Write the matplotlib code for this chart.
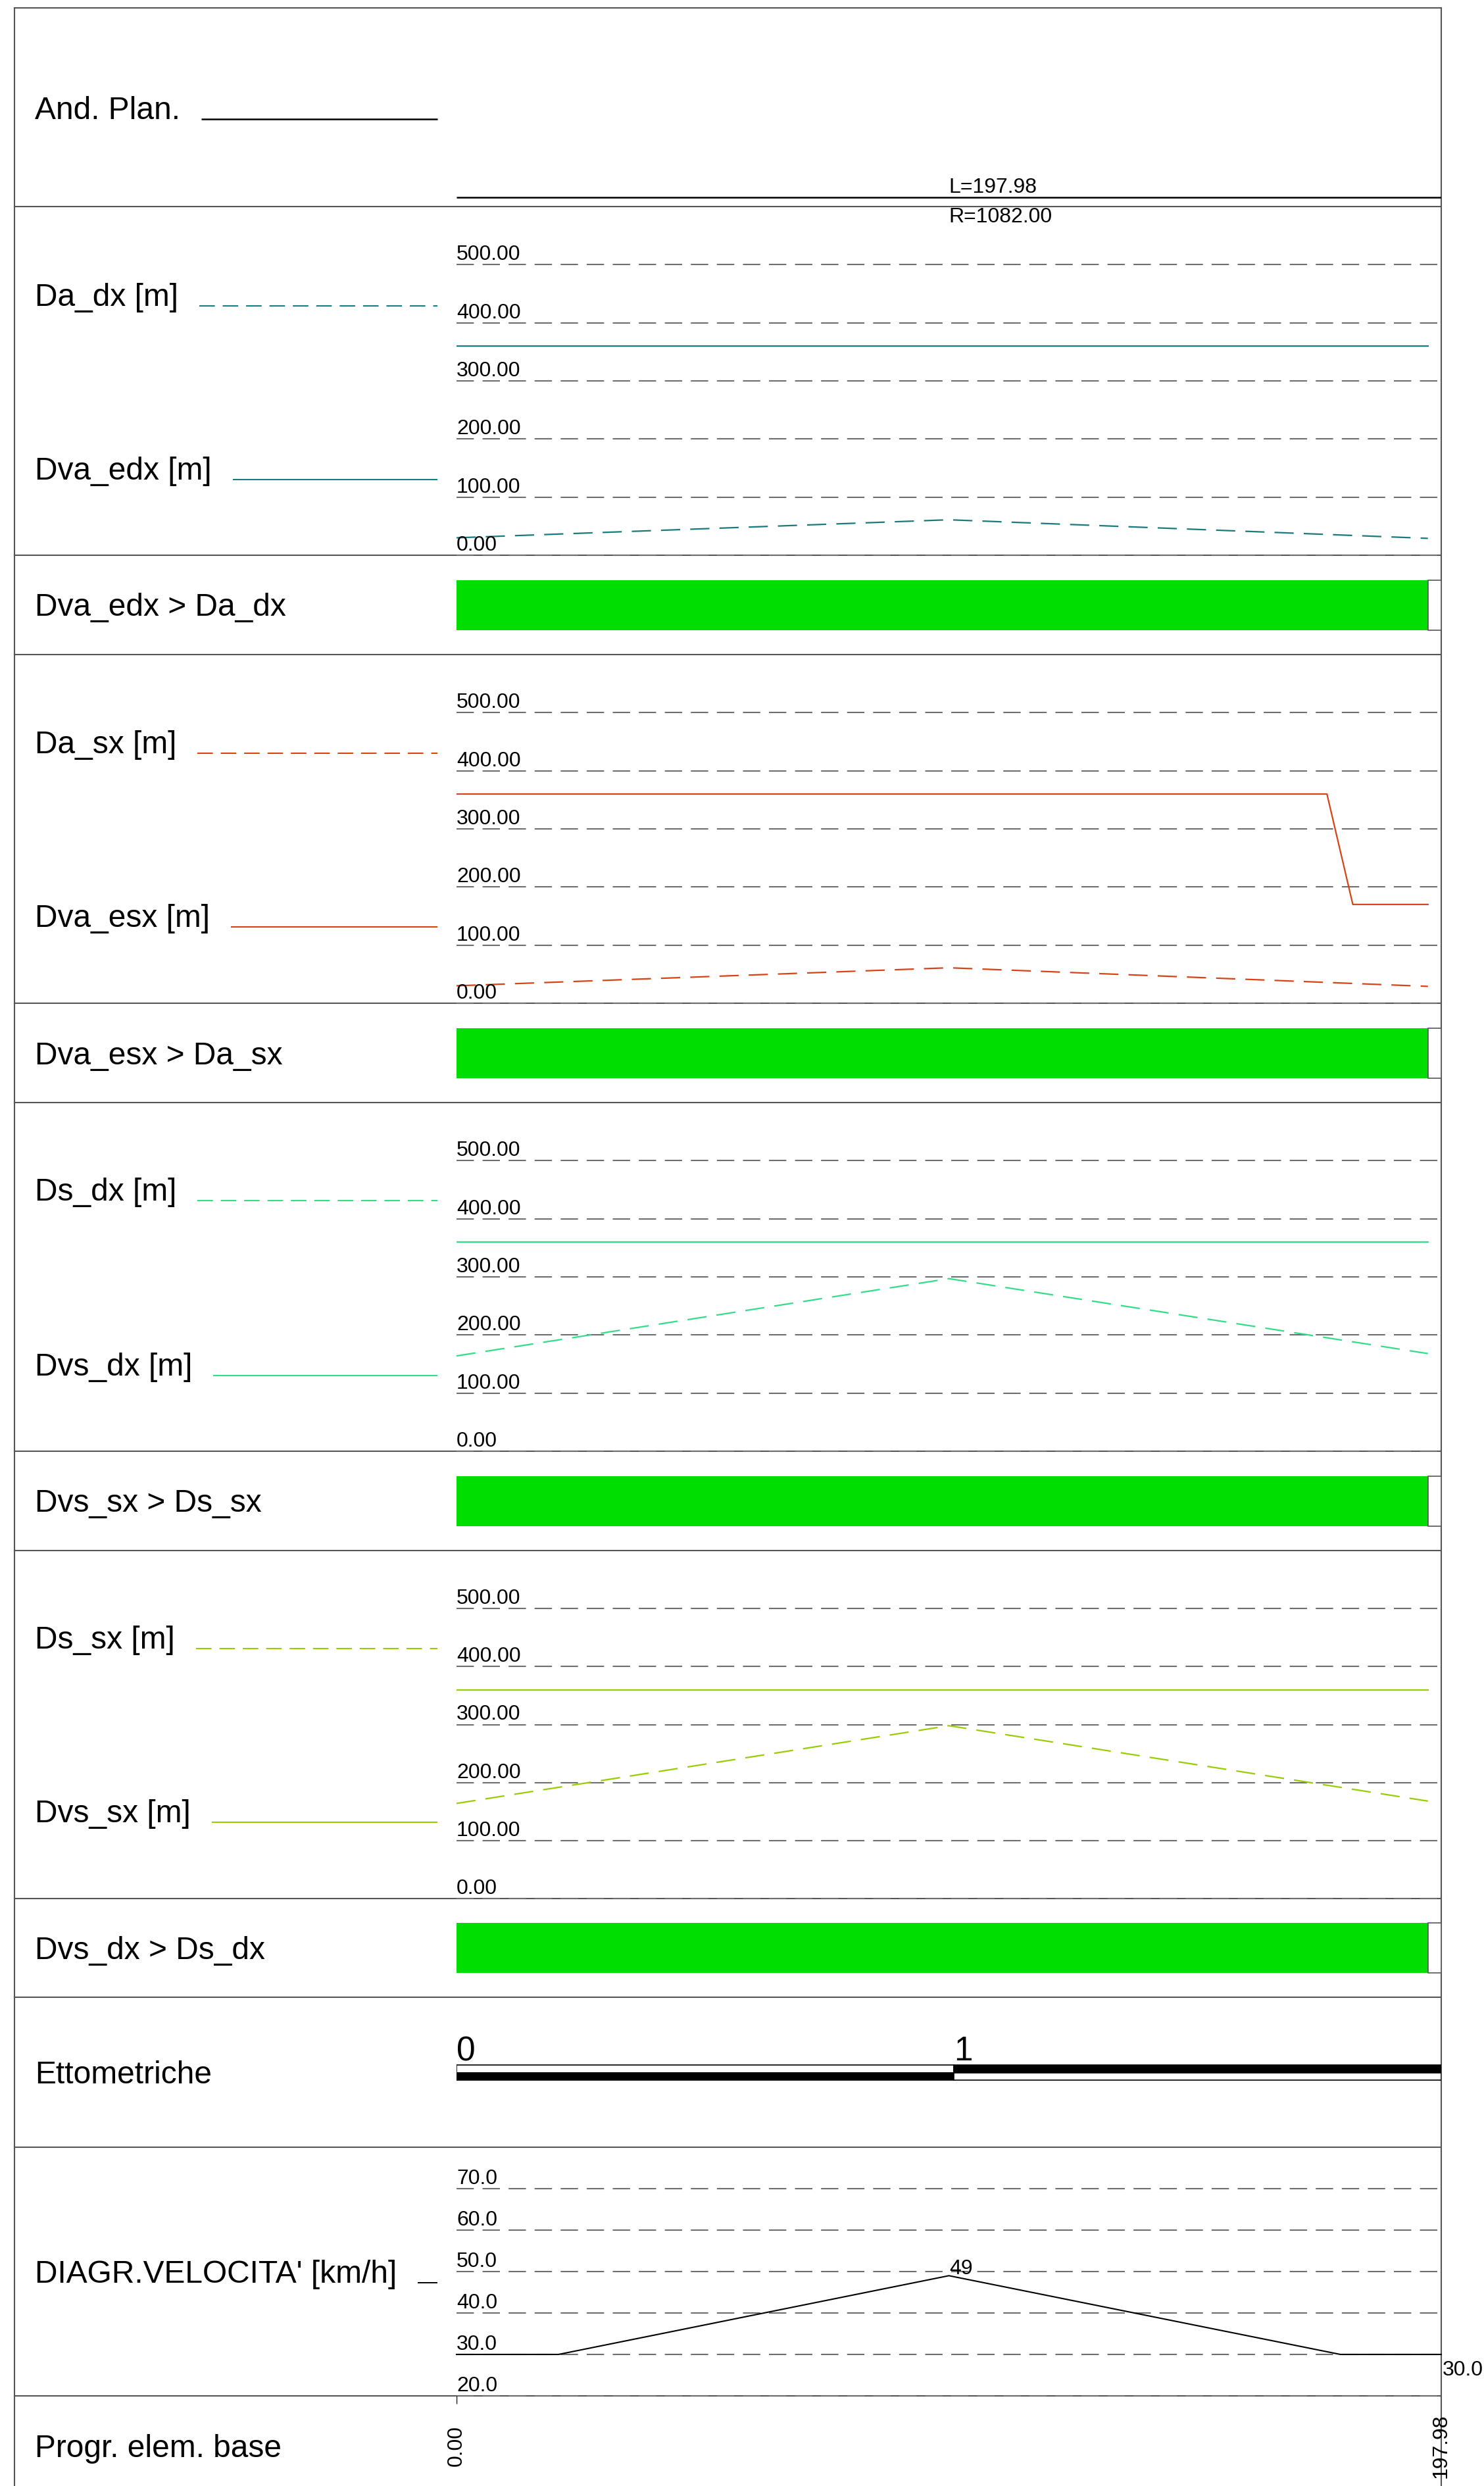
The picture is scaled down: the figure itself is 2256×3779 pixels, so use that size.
import matplotlib
matplotlib.use("Agg")
import matplotlib.pyplot as plt
from matplotlib.transforms import offset_copy

plt.rcParams['font.family'] = ['Liberation Sans', 'DejaVu Sans']
plt.rcParams['lines.scale_dashes'] = False

# ---------------- data ----------------
total_len = 197.98          # progressive of the base element [m]
plan_L = 197.98
plan_R = 1082.00

dist = [0.0, 99.0, 195.3]
da_dx = [30, 61, 29]
dva_edx = [360, 360, 360]

da_sx = [30, 61, 29]
dva_esx_x = [0.0, 175.0, 180.2, 195.3]
dva_esx = [360, 360, 170, 170]

ds_dx = [164, 297, 168]
dvs_dx = [360, 360, 360]

ds_sx = [164, 298, 168]
dvs_sx = [360, 360, 360]

check_names = ["Dva_edx > Da_dx", "Dva_esx > Da_sx", "Dvs_sx > Ds_sx", "Dvs_dx > Ds_dx"]
check_end = [195.3, 195.3, 195.3, 195.3]

hm_marks = [0, 100, total_len]
hm_labels = ["0", "1"]

vel_x = [0.0, 20.5, 99.0, 177.7, 197.98]
vel = [30, 30, 49, 30, 30]
vel_peak_label = "49"
vel_end_label = "30.0"

prog_ticks = [0.0, 197.98]
prog_labels = ["0.00", "197.98"]

dist_grid = [0, 100, 200, 300, 400, 500]
vel_grid = [20, 30, 40, 50, 60, 70]

# ---------------- layout / style ----------------
W, H = 2256, 3779
XL, X0, X1 = 22, 694, 2191         # frame left, plot start, frame right
LX, LEG_END = 53, 665              # label x, legend sample end
bounds = [12, 314, 844, 995, 1525, 1676, 2206, 2357, 2886, 3036, 3264, 3642, 3779]
BIG = 34.5
SMALL = 23

TEAL = '#187a7a'
RED = '#d84315'
GREEN = '#33dd88'
YGREEN = '#99cc00'
OKGREEN = '#00dd00'
GRID = '#6e6e6e'
BORDER = '#555555'
DASH = (21, 11)
LEG_DASH = (17, 8.6)
GRID_DASH = (19, 9.5)

fig = plt.figure(figsize=(W / 100, H / 100), dpi=100)
ax0 = fig.add_axes([0, 0, 1, 1])
ax0.set_xlim(0, W)
ax0.set_ylim(H, 0)
ax0.axis('off')
renderer = fig.canvas.get_renderer()

# frame and row separators
ax0.plot([XL, XL], [bounds[0], H], color=BORDER, lw=1.5)
ax0.plot([X1, X1], [bounds[0], H], color=BORDER, lw=1.5)
for b in bounds[:-1]:
    ax0.plot([XL, X1], [b, b], color=BORDER, lw=1.5)


def label(y, text, color=None, dashed=False, lw=1.5):
    t = ax0.text(LX, y, text, fontsize=BIG, va='baseline', ha='left')
    if color is not None:
        x_end = t.get_window_extent(renderer).x1
        kw = dict(dashes=LEG_DASH) if dashed else {}
        ax0.plot([x_end + 32, LEG_END], [y, y], color=color, lw=lw,
                 solid_capstyle='butt', **kw)


def row_ax(i, ylim=None):
    top, bot = bounds[i], bounds[i + 1]
    ax = fig.add_axes([X0 / W, 1 - bot / H, (X1 - X0) / W, (bot - top) / H])
    ax.set_xlim(0, total_len)
    ax.set_ylim(ylim if ylim is not None else (bot, top))
    ax.axis('off')
    return ax


def grid(ax, ticks, fmt):
    tr = offset_copy(ax.transData, fig=fig, y=7, units='dots')
    for v in ticks:
        ax.axhline(v, color=GRID, lw=1.5, dashes=GRID_DASH, clip_on=False)
        ax.text(0, v, fmt.format(v), transform=tr, fontsize=SMALL,
                va='baseline', ha='left')


# ---- row 0: plan alignment
label(181, "And. Plan.", 'black', lw=1.8)
ax = row_ax(0)
ax.hlines(300, 0, plan_L, color='black', lw=1.8)
ax.text(plan_L / 2, 293, f"L={plan_L:.2f}", fontsize=SMALL, va='baseline', ha='left')
ax.text(plan_L / 2, 338, f"R={plan_R:.2f}", fontsize=SMALL, va='baseline',
        ha='left', clip_on=False)

# ---- distance rows
dist_rows = [
    (1, "Da_dx [m]", 465, "Dva_edx [m]", 729, TEAL,
     (dist, da_dx), (dist[::2], dva_edx[::2])),
    (3, "Da_sx [m]", 1145, "Dva_esx [m]", 1409, RED,
     (dist, da_sx), (dva_esx_x, dva_esx)),
    (5, "Ds_dx [m]", 1825, "Dvs_dx [m]", 2091, GREEN,
     (dist, ds_dx), (dist[::2], dvs_dx[::2])),
    (7, "Ds_sx [m]", 2506, "Dvs_sx [m]", 2770, YGREEN,
     (dist, ds_sx), (dist[::2], dvs_sx[::2])),
]
for i, n1, y1, n2, y2, col, dashed_s, solid_s in dist_rows:
    label(y1, n1, col, dashed=True)
    label(y2, n2, col)
    ax = row_ax(i, (0, 600))
    grid(ax, dist_grid, "{:.2f}")
    ax.plot(*dashed_s, color=col, lw=1.6, dashes=DASH)
    ax.plot(*solid_s, color=col, lw=1.6)

# ---- check rows
for i, name, end in zip([2, 4, 6, 8], check_names, check_end):
    top, bot = bounds[i], bounds[i + 1]
    mid = (top + bot) / 2
    ax0.text(LX, mid + 17, name, fontsize=BIG, va='baseline', ha='left')
    ax = row_ax(i)
    ax.barh(mid, end, left=0, height=76, color=OKGREEN)
    ax.barh(mid, total_len - end, left=end, height=76, facecolor='white',
            edgecolor=BORDER, lw=1.2)

# ---- hectometric marks
ax0.text(LX, 3167, "Ettometriche", fontsize=BIG, va='baseline', ha='left')
ax = row_ax(9)
for k in range(len(hm_marks) - 1):
    left = hm_marks[k]
    width = hm_marks[k + 1] - hm_marks[k]
    top_c, bot_c = ('white', 'black') if k % 2 == 0 else ('black', 'white')
    ax.barh(3145, width, left=left, height=12, facecolor=top_c,
            edgecolor='black', lw=1.2)
    ax.barh(3156.5, width, left=left, height=11, facecolor=bot_c,
            edgecolor='black', lw=1.2)
for m, lab in zip(hm_marks, hm_labels):
    ax.text(m, 3132, lab, fontsize=37, va='baseline', ha='left')

# ---- speed diagram
label(3470, "DIAGR.VELOCITA' [km/h]", 'black', lw=1.4)
ax = row_ax(10, (20, 80))
grid(ax, vel_grid, "{:.1f}")
ax.plot(vel_x, vel, color='black', lw=1.5, clip_on=False)
k = vel.index(max(vel))
ax.text(vel_x[k], vel[k], vel_peak_label, fontsize=SMALL, va='baseline', ha='left',
        transform=offset_copy(ax.transData, fig=fig, x=1, y=2, units='dots'))
ax.text(vel_x[-1], vel[-1], vel_end_label, fontsize=SMALL, va='baseline', ha='left',
        clip_on=False,
        transform=offset_copy(ax.transData, fig=fig, x=2, y=-32, units='dots'))

# ---- progressives
ax0.text(LX, 3735, "Progr. elem. base", fontsize=BIG, va='baseline', ha='left')
ax = row_ax(11)
ax.vlines(prog_ticks[0], bounds[11], bounds[11] + 12, color='black', lw=1)
for p, lab in zip(prog_ticks, prog_labels):
    ax.text(p, 3718, lab, fontsize=SMALL, rotation=90, ha='center', va='center',
            clip_on=False)

fig.savefig("out.png", dpi=100)
